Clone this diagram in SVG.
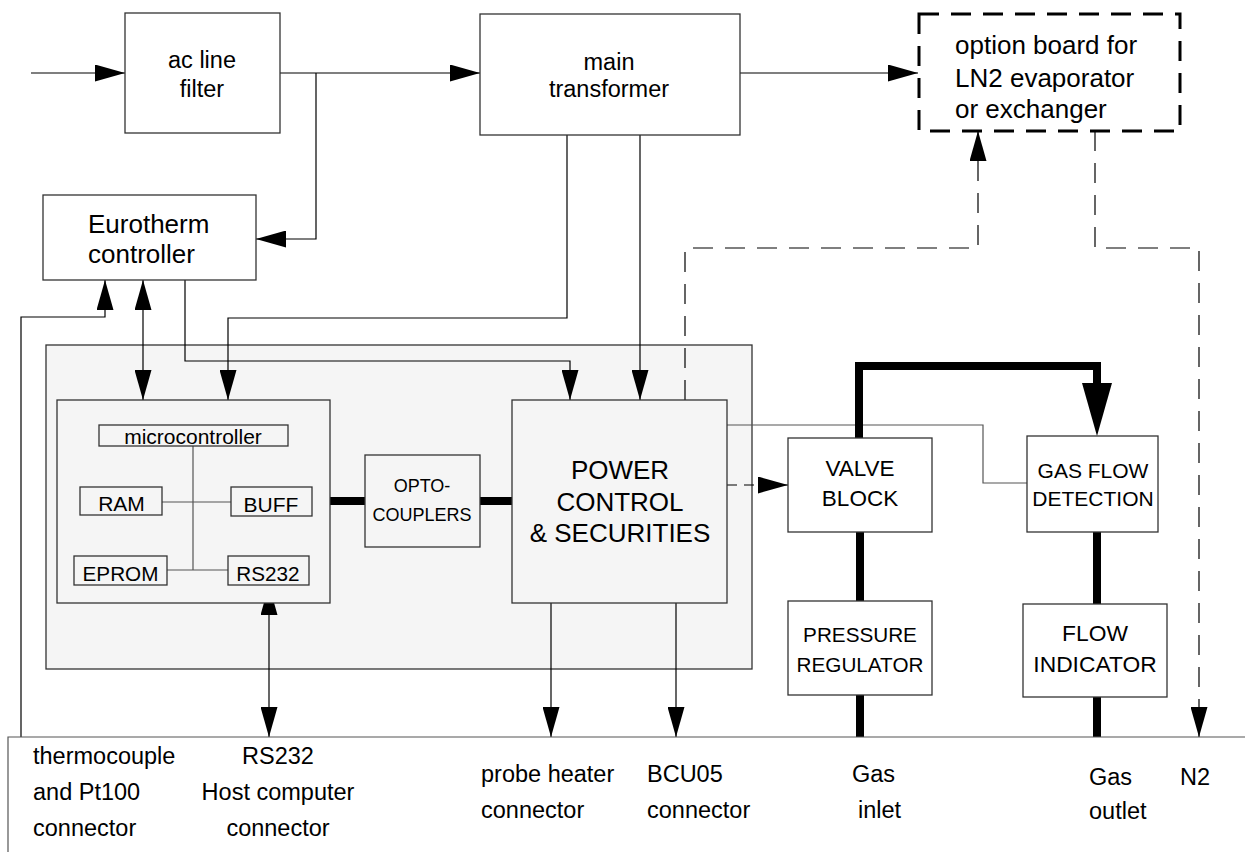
<svg xmlns="http://www.w3.org/2000/svg" width="1245" height="852" viewBox="0 0 1245 852">
<defs>
<marker id="arr" viewBox="0 0 30 17" refX="30" refY="8.5" markerWidth="30" markerHeight="17" markerUnits="userSpaceOnUse" orient="auto-start-reverse"><path d="M0,0L30,8.5L0,17z" fill="#000"/></marker>
<marker id="big" viewBox="0 0 53 30" refX="0" refY="15" markerWidth="53" markerHeight="30" markerUnits="userSpaceOnUse" orient="auto"><path d="M0,0L53,15L0,30z" fill="#000"/></marker>
</defs>
<style>
.box{fill:#fff;stroke:#333;stroke-width:1.3}
.panel{fill:#f5f5f5;stroke:#333;stroke-width:1.3}
.inner{fill:#f5f5f5;stroke:#333;stroke-width:1.3}
.opt{fill:#fff;stroke:#000;stroke-width:3;stroke-dasharray:20 12}
.t{font-family:"Liberation Sans",Arial,sans-serif;fill:#000}
.c{text-anchor:middle}
.ln{fill:none;stroke:#000;stroke-width:1.2}
.gl{fill:none;stroke:#555;stroke-width:1.2}
.dl{fill:none;stroke:#000;stroke-width:1.2;stroke-dasharray:20 12}
.ds{fill:none;stroke:#000;stroke-width:1.2;stroke-dasharray:10 7}
.thick{fill:none;stroke:#000;stroke-width:8}
.ah{marker-end:url(#arr)}
.ah2{marker-start:url(#arr);marker-end:url(#arr)}
</style>
<rect width="1245" height="852" fill="#fff"/>

<g id="electronics-panel">
<rect class="panel" x="46" y="345" width="706" height="324"/>
</g>

<g id="connectors">
<path class="ln ah" d="M31,73H125"/>
<path class="ln ah" d="M280,73H480"/>
<path class="ln ah" d="M316,73V239H256"/>
<path class="ln ah" d="M740,73H918"/>
<path class="ln ah" d="M567,135V318H228V400"/>
<path class="ln ah" d="M640,135V400"/>
<path class="ln ah" d="M21,737V317H105V280"/>
<path class="ln ah2" d="M143,280V400"/>
<path class="ln ah" d="M185,280V361H570V400"/>
<path class="thick" d="M330,501H365"/>
<path class="thick" d="M480,501H512"/>
<path class="ds ah" d="M727,485H788"/>
<path class="gl" d="M727,425H983V483H1027"/>
<path class="dl ah" d="M685,400V248H978V131"/>
<path class="dl ah" d="M1095,131V248H1199V737"/>
<path class="thick" d="M859,438V366H1097V383" marker-end="url(#big)"/>
<path class="thick" d="M860,532V601"/>
<path class="thick" d="M860,695V737"/>
<path class="thick" d="M1097,532V604"/>
<path class="thick" d="M1097,697V737"/>
<path class="ln ah2" d="M269,585V737"/>
<path class="ln ah" d="M551,603V737"/>
<path class="ln ah" d="M676,603V737"/>
</g>

<g id="ac-line-filter">
<rect class="box" x="125" y="13" width="155" height="120"/>
<text class="t c" x="202" y="68" font-size="23.5">ac line</text>
<text class="t c" x="202" y="97" font-size="23.5">filter</text>
</g>

<g id="main-transformer">
<rect class="box" x="480" y="14" width="260" height="121"/>
<text class="t c" x="609" y="70" font-size="23.5">main</text>
<text class="t c" x="609" y="97" font-size="23.5">transformer</text>
</g>

<g id="option-board">
<rect class="opt" x="919" y="14" width="261" height="117"/>
<text class="t" x="955" y="54" font-size="26">option board for</text>
<text class="t" x="955" y="87" font-size="26">LN2 evaporator</text>
<text class="t" x="955" y="118" font-size="26">or exchanger</text>
</g>

<g id="eurotherm-controller">
<rect class="box" x="43" y="195" width="213" height="85"/>
<text class="t" x="88" y="233" font-size="26">Eurotherm</text>
<text class="t" x="88" y="263" font-size="26">controller</text>
</g>

<g id="microcontroller-board">
<rect class="inner" x="57" y="400" width="273" height="203"/>
<path class="gl" d="M193,446V570M162,502H231M167,570H228"/>
<rect class="inner" x="99" y="425" width="189" height="21"/>
<text class="t c" x="193" y="444" font-size="21">microcontroller</text>
<rect class="inner" x="80" y="487" width="82" height="28"/>
<text class="t c" x="121.5" y="511" font-size="21">RAM</text>
<rect class="inner" x="231" y="487" width="81" height="29"/>
<text class="t c" x="271" y="512" font-size="21">BUFF</text>
<rect class="inner" x="74" y="556" width="93" height="29"/>
<text class="t c" x="120.5" y="581" font-size="20.7">EPROM</text>
<rect class="inner" x="228" y="556" width="81" height="29"/>
<text class="t c" x="268" y="581" font-size="20.7">RS232</text>
</g>

<g id="opto-couplers">
<rect class="inner" x="365" y="455" width="115" height="92"/>
<text class="t c" x="422" y="492" font-size="18">OPTO-</text>
<text class="t c" x="422" y="521" font-size="18">COUPLERS</text>
</g>

<g id="power-control">
<rect class="inner" x="512" y="400" width="215" height="203"/>
<text class="t c" x="620" y="479" font-size="26">POWER</text>
<text class="t c" x="620" y="511" font-size="26">CONTROL</text>
<text class="t c" x="620" y="542" font-size="26">&amp; SECURITIES</text>
</g>

<g id="valve-block">
<rect class="box" x="788" y="438" width="144" height="94"/>
<text class="t c" x="860" y="476" font-size="22.5">VALVE</text>
<text class="t c" x="860" y="506" font-size="22.5">BLOCK</text>
</g>

<g id="gas-flow-detection">
<rect class="box" x="1027" y="436" width="131" height="96"/>
<text class="t c" x="1093" y="478" font-size="21">GAS FLOW</text>
<text class="t c" x="1093" y="506" font-size="21">DETECTION</text>
</g>

<g id="pressure-regulator">
<rect class="box" x="788" y="601" width="144" height="94"/>
<text class="t c" x="860" y="642" font-size="20.7">PRESSURE</text>
<text class="t c" x="860" y="672" font-size="20.7">REGULATOR</text>
</g>

<g id="flow-indicator">
<rect class="box" x="1023" y="604" width="144" height="93"/>
<text class="t c" x="1095" y="641" font-size="22.8">FLOW</text>
<text class="t c" x="1095" y="672" font-size="22.8">INDICATOR</text>
</g>

<g id="connector-panel">
<path class="gl" d="M8,852V737H1245"/>
<text class="t" x="33" y="764" font-size="23.5">thermocouple</text>
<text class="t" x="33" y="800" font-size="23.5">and Pt100</text>
<text class="t" x="33" y="836" font-size="23.5">connector</text>
<text class="t c" x="278" y="764" font-size="23.5">RS232</text>
<text class="t c" x="278" y="800" font-size="23.5">Host computer</text>
<text class="t c" x="278" y="836" font-size="23.5">connector</text>
<text class="t" x="481" y="782" font-size="23.5">probe heater</text>
<text class="t" x="481" y="818" font-size="23.5">connector</text>
<text class="t" x="647" y="782" font-size="23.5">BCU05</text>
<text class="t" x="647" y="818" font-size="23.5">connector</text>
<text class="t" x="852" y="782" font-size="23.5">Gas</text>
<text class="t" x="858" y="818" font-size="23.5">inlet</text>
<text class="t" x="1089" y="785" font-size="23.5">Gas</text>
<text class="t" x="1089" y="819" font-size="23.5">outlet</text>
<text class="t" x="1180" y="785" font-size="23.5">N2</text>
</g>
</svg>
